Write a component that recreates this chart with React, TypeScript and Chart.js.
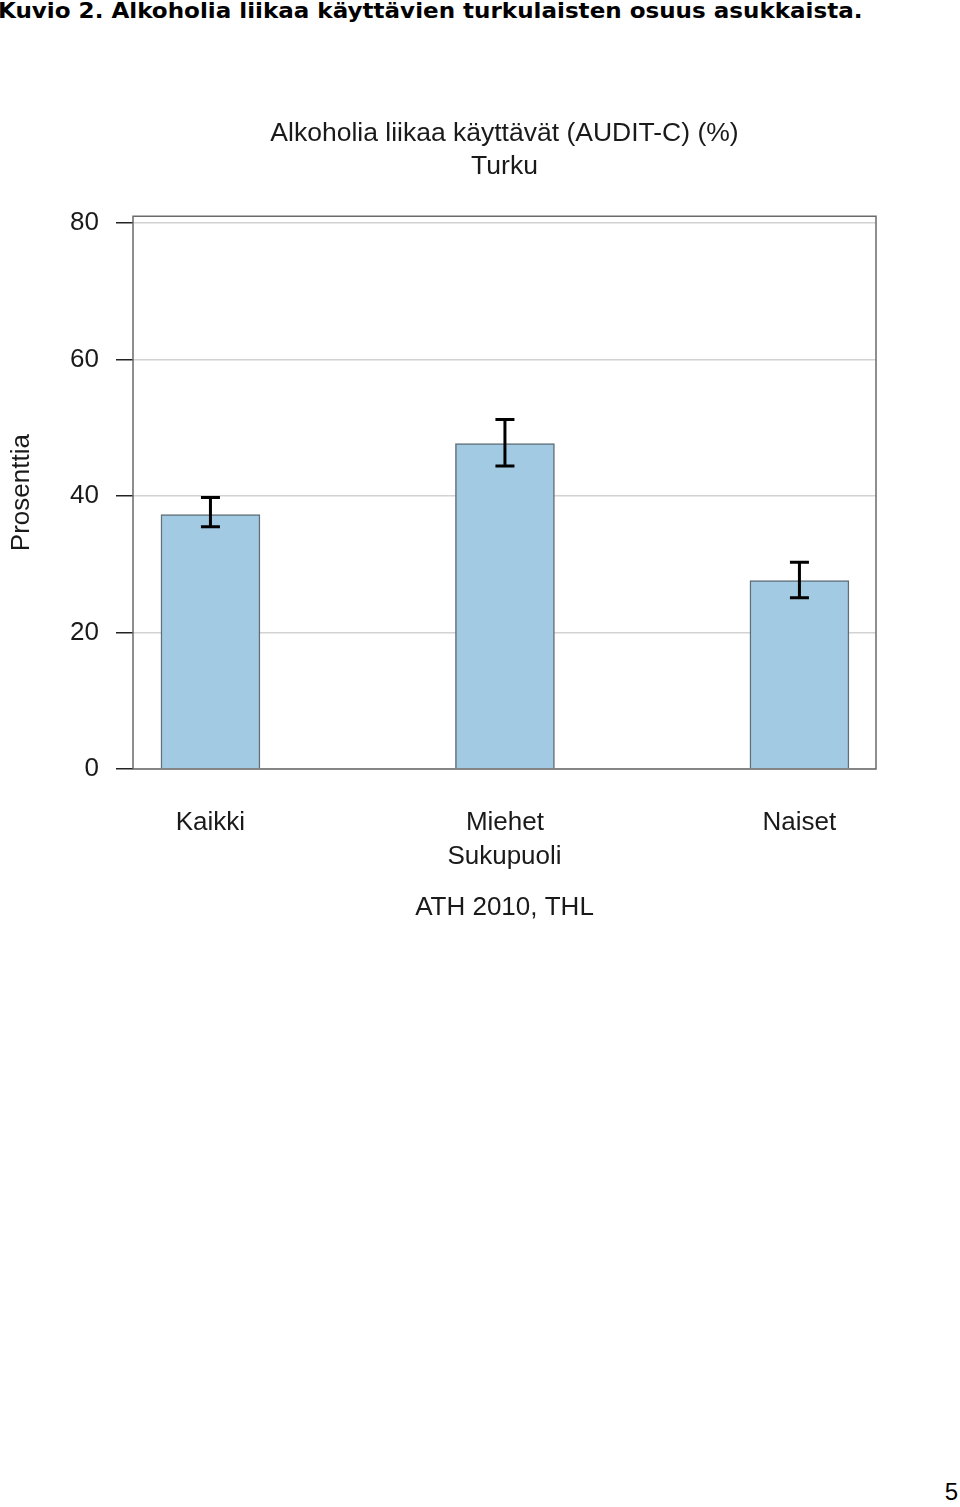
import React, { useEffect, useRef } from "react";
import { Chart, registerables } from "chart.js";

Chart.register(...registerables);

const pageTitle = "Kuvio 2. Alkoholia liikaa käyttävien turkulaisten osuus asukkaista.";
const chartTitle = ["Alkoholia liikaa käyttävät (AUDIT-C) (%)", "Turku"];
const sourceText = "ATH 2010, THL";
const xAxisTitle = "Sukupuoli";
const yAxisTitle = "Prosenttia";
const pageNumber = "5";

const categories = ["Kaikki", "Miehet", "Naiset"];
const positions = [0, 1, 2];
const values = [37.3, 47.7, 27.6];
const lowerCI = [35.5, 44.4, 25.1];
const upperCI = [39.8, 51.2, 30.3];
const yTicks = [0, 20, 40, 60, 80];

const FONT = "'Liberation Sans', Arial, Helvetica, sans-serif";
const TEXT = "#1a1a1a";

const framePlugin = {
  id: "frameAndErrors",
  afterDatasetsDraw(chart: any) {
    const { ctx, chartArea: a, scales } = chart;
    const x = scales.x;
    const y = scales.y;
    ctx.save();
    ctx.strokeStyle = "#6a6a6a";
    ctx.lineWidth = 1.5;
    ctx.strokeRect(a.left, a.top, a.right - a.left, a.bottom - a.top);
    ctx.strokeStyle = "#000";
    ctx.lineWidth = 3;
    positions.forEach((p, i) => {
      const px = x.getPixelForValue(p);
      const yl = y.getPixelForValue(lowerCI[i]);
      const yh = y.getPixelForValue(upperCI[i]);
      ctx.beginPath();
      ctx.moveTo(px, yl);
      ctx.lineTo(px, yh);
      ctx.moveTo(px - 9.5, yl);
      ctx.lineTo(px + 9.5, yl);
      ctx.moveTo(px - 9.5, yh);
      ctx.lineTo(px + 9.5, yh);
      ctx.stroke();
    });
    ctx.restore();
  },
};

export default function App() {
  const ref = useRef<HTMLCanvasElement | null>(null);

  useEffect(() => {
    if (!ref.current) return;
    Chart.defaults.font.family = FONT;
    Chart.defaults.color = TEXT;
    const chart = new Chart(ref.current, {
      type: "bar",
      data: {
        datasets: [
          {
            data: positions.map((p, i) => ({ x: p, y: values[i] })),
            backgroundColor: "#a2cae2",
            borderColor: "#5f6e78",
            borderWidth: 1.5,
            barThickness: 99,
          } as any,
        ],
      },
      options: {
        responsive: false,
        animation: false,
        layout: { padding: { top: 107, left: 0, right: 84, bottom: 26.4 } },
        plugins: {
          legend: { display: false },
          tooltip: { enabled: false },
          title: {
            display: true,
            text: chartTitle,
            fullSize: false,
            color: TEXT,
            font: { family: FONT, size: 26.5, weight: "normal", lineHeight: 1.25 },
            padding: { top: 10, bottom: 33 },
          },
          subtitle: {
            display: true,
            text: sourceText,
            position: "bottom",
            fullSize: false,
            color: TEXT,
            font: { family: FONT, size: 26, weight: "normal", lineHeight: 1.2 },
            padding: { top: 19.6, bottom: 10 },
          },
        },
        scales: {
          x: {
            type: "linear",
            min: -0.263,
            max: 2.26,
            offset: false,
            grid: { display: false, drawTicks: false, tickLength: 0 },
            border: { display: false },
            afterBuildTicks: (scale: any) => {
              scale.ticks = positions.map((v) => ({ value: v }));
            },
            afterFit: (scale: any) => {
              scale.height = 103.8;
            },
            ticks: {
              autoSkip: false,
              maxRotation: 0,
              padding: 38.4,
              color: TEXT,
              font: { family: FONT, size: 26, lineHeight: 1.2 },
              callback: (_v: any, i: number) => categories[i],
            },
            title: {
              display: true,
              text: xAxisTitle,
              color: TEXT,
              font: { family: FONT, size: 26, lineHeight: 1.2 },
              padding: { top: 3, bottom: 0 },
            },
          },
          y: {
            min: 0,
            max: 81,
            afterBuildTicks: (scale: any) => {
              scale.ticks = yTicks.map((v) => ({ value: v }));
            },
            afterFit: (scale: any) => {
              scale.width = 133;
            },
            grid: {
              color: "#d2d2d2",
              lineWidth: 1.5,
              tickColor: "#222",
              tickLength: 17,
              tickWidth: 1.5,
            },
            border: { display: false },
            ticks: {
              padding: 17,
              color: TEXT,
              font: { family: FONT, size: 26, lineHeight: 1.2 },
            },
            title: {
              display: true,
              text: yAxisTitle,
              color: TEXT,
              font: { family: FONT, size: 26, lineHeight: 1.2 },
              padding: { top: 6.4, bottom: 0 },
            },
          },
        },
      } as any,
      plugins: [framePlugin],
    });
    return () => chart.destroy();
  }, []);

  return (
    <div
      style={{
        position: "absolute",
        left: 0,
        top: 0,
        width: 960,
        height: 1507,
        background: "#fff",
        overflow: "hidden",
      }}
    >
      <div
        style={{
          position: "absolute",
          left: -2,
          top: -1,
          fontFamily: "'DejaVu Sans', Verdana, sans-serif",
          fontWeight: "bold",
          fontSize: 21,
          whiteSpace: "nowrap",
          color: "#000",
          transform: "scaleX(1.097)",
          transformOrigin: "0 0",
        }}
      >
        {pageTitle}
      </div>
      <canvas
        ref={ref}
        width={960}
        height={960}
        style={{ position: "absolute", left: 0, top: 0, width: 960, height: 960 }}
      />
      <div
        style={{
          position: "absolute",
          right: 2,
          top: 1478,
          fontFamily: "'Liberation Sans', Arial, sans-serif",
          fontSize: 24,
          color: "#000",
        }}
      >
        {pageNumber}
      </div>
    </div>
  );
}
